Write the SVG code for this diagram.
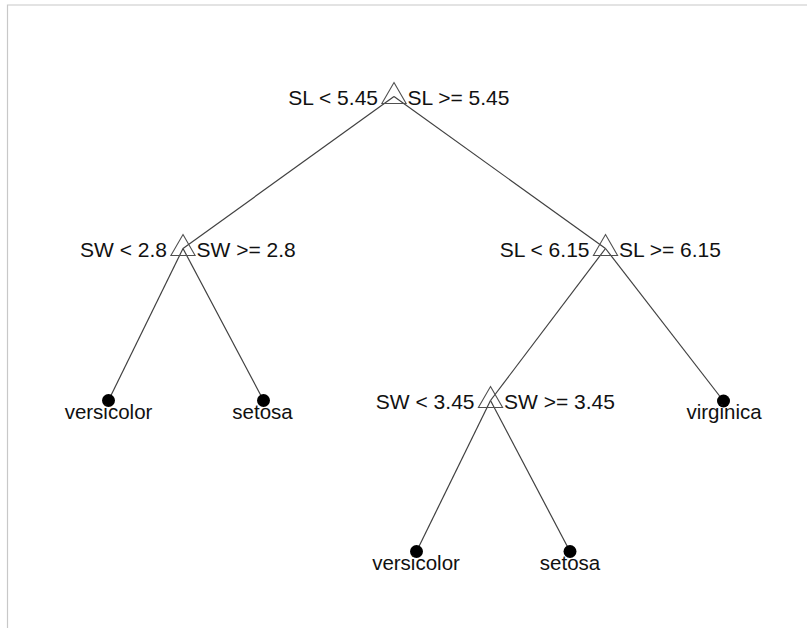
<svg xmlns="http://www.w3.org/2000/svg" width="807" height="628" viewBox="0 0 807 628">
  <style>
    .edge { stroke: #404040; stroke-width: 1.2; fill: none; }
    .split { stroke: #505050; stroke-width: 1.1; fill: none; }
    .leaf { fill: #000; }
    text { font-family: "Liberation Sans", Arial, Helvetica, sans-serif; font-size: 20.5px; fill: #111; }
    .cond { font-size: 21px; }
    .l { text-anchor: end; }
    .r { text-anchor: start; }
    .m { text-anchor: middle; }
    .frame { stroke: #c8c8c8; stroke-width: 1.2; fill: none; }
  </style>
  <defs>
    <!-- split marker: open triangle centred on the node point -->
    <path id="tri" d="M0,-14 L12.1,7 L-12.1,7 Z"/>
  </defs>
  <rect width="807" height="628" fill="#fff"/>
  <path class="frame" d="M7.5,628 V5 H807"/>

  <g id="connectors">
    <line class="edge" x1="394" y1="96.5" x2="183" y2="248.5"/>
    <line class="edge" x1="394" y1="96.5" x2="605.5" y2="248.5"/>
    <line class="edge" x1="183" y1="248.5" x2="108.5" y2="400.5"/>
    <line class="edge" x1="183" y1="248.5" x2="263.5" y2="400.5"/>
    <line class="edge" x1="605.5" y1="248.5" x2="490.5" y2="400.5"/>
    <line class="edge" x1="605.5" y1="248.5" x2="723.5" y2="401"/>
    <line class="edge" x1="490.5" y1="400.5" x2="416.5" y2="551.5"/>
    <line class="edge" x1="490.5" y1="400.5" x2="570" y2="551.5"/>
  </g>

  <g id="node-root">
    <use href="#tri" class="split" x="394" y="96.5"/>
    <text class="cond l" x="378" y="104.5">SL &lt; 5.45</text>
    <text class="cond r" x="407.5" y="104.5">SL &gt;= 5.45</text>
  </g>
  <g id="node-sw28">
    <use href="#tri" class="split" x="183" y="248.5"/>
    <text class="cond l" x="167" y="256.5">SW &lt; 2.8</text>
    <text class="cond r" x="196.5" y="256.5">SW &gt;= 2.8</text>
  </g>
  <g id="node-sl615">
    <use href="#tri" class="split" x="605.5" y="248.5"/>
    <text class="cond l" x="589.5" y="256.5">SL &lt; 6.15</text>
    <text class="cond r" x="619" y="256.5">SL &gt;= 6.15</text>
  </g>
  <g id="node-sw345">
    <use href="#tri" class="split" x="490.5" y="400.5"/>
    <text class="cond l" x="474.5" y="408.5">SW &lt; 3.45</text>
    <text class="cond r" x="504" y="408.5">SW &gt;= 3.45</text>
  </g>

  <g id="leaf-versicolor-1">
    <circle class="leaf" cx="108.5" cy="400.5" r="6.5"/>
    <text class="m" x="108.5" y="419">versicolor</text>
  </g>
  <g id="leaf-setosa-1">
    <circle class="leaf" cx="263.5" cy="400.5" r="6.5"/>
    <text class="m" x="262.5" y="419">setosa</text>
  </g>
  <g id="leaf-virginica">
    <circle class="leaf" cx="723.5" cy="401" r="6.5"/>
    <text class="m" x="724" y="419">virginica</text>
  </g>
  <g id="leaf-versicolor-2">
    <circle class="leaf" cx="416.5" cy="551.5" r="6.5"/>
    <text class="m" x="416" y="570">versicolor</text>
  </g>
  <g id="leaf-setosa-2">
    <circle class="leaf" cx="570" cy="551.5" r="6.5"/>
    <text class="m" x="570" y="570">setosa</text>
  </g>
</svg>
